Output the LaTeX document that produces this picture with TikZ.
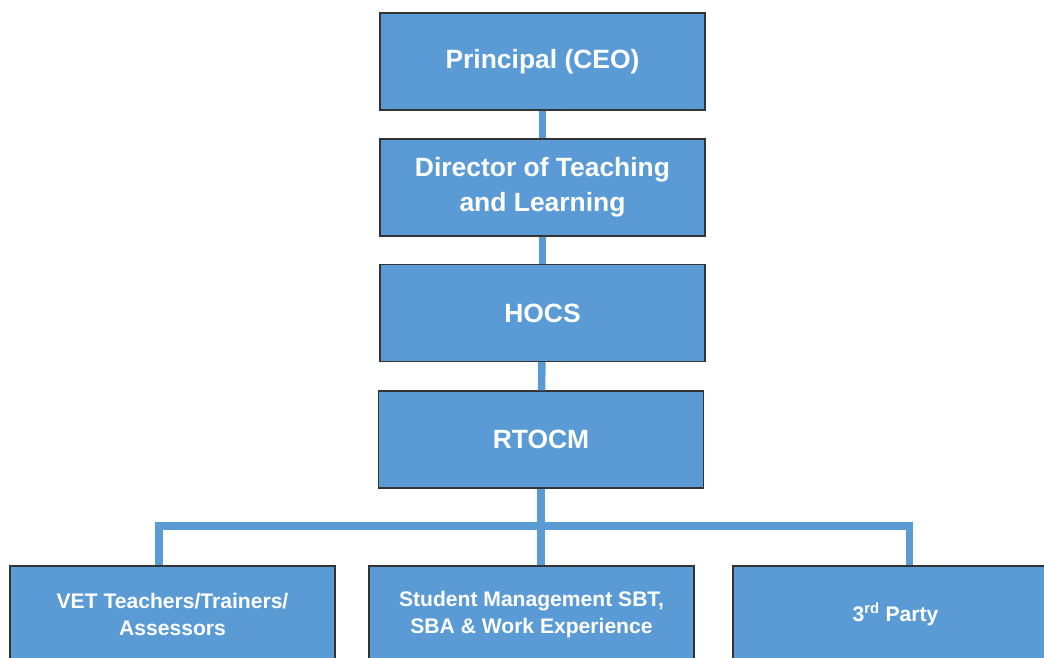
\documentclass[tikz,border=0pt]{standalone}
\usepackage{fontspec}
\setmainfont{Liberation Sans}
\usepackage{xcolor}
\definecolor{boxblue}{HTML}{5B9BD5}

\tikzset{
  post/.style={draw=black!80, line width=0.9pt, fill=boxblue, text=white,
    font=\bfseries\fontsize{18.8}{24.9}\selectfont, align=center,
    minimum width=8.125cm, minimum height=2.425cm, inner sep=2pt},
  staff/.style={post, font=\bfseries\fontsize{15}{19.3}\selectfont},
  link/.style={draw=boxblue, line width=5.3pt}
}

\begin{document}
\begin{tikzpicture}
\useasboundingbox (0,0) rectangle (26.1,16.425);
\clip (0,0) rectangle (26.1,16.425);

% chain of command
\node[post](ceo) at (13.5625,14.8875){Principal (CEO)};
\node[post](dtl) at (13.5625,11.7375){Director of Teaching\\and Learning};
\node[post](hocs) at (13.5625,8.6){HOCS};
\node[post](rtocm) at (13.525,5.4375){RTOCM};

% staff level
\node[staff](vet) at (4.3125,1.0625){VET Teachers/Trainers/\\Assessors};
\node[staff](student) at (13.2875,1.0625){Student Management SBT,\\SBA \& Work Experience};
\node[staff](party) at (22.3875,1.0625){3\textsuperscript{rd} Party};

\coordinate (busL) at (3.975,3.275);
\coordinate (busR) at (22.7375,3.275);

\draw[link] (ceo) -- (dtl);
\draw[link] (dtl) -- (hocs);
\draw[link] (hocs) -- (rtocm);
\draw[link] (rtocm) -- (rtocm |- student.north);
\draw[link] (vet.north -| busL) -- (busL) -- (busR) -- (party.north -| busR);
\end{tikzpicture}
\end{document}
